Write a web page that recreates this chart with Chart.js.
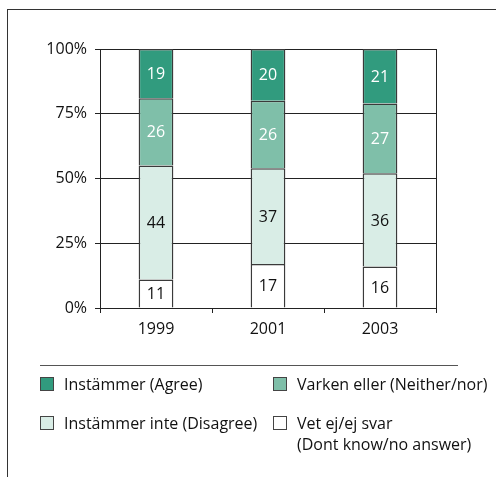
<!DOCTYPE html>
<html>
<head>
<meta charset="utf-8">
<script src="https://cdn.jsdelivr.net/npm/chart.js@4.4.1/dist/chart.umd.min.js"></script>
<style>
  html, body { margin: 0; padding: 0; background: #fff; }
  #wrap { position: relative; width: 496px; height: 477px; overflow: hidden; font-family: "Open Sans", sans-serif; }
  #frame { position: absolute; left: 7px; top: 9px; width: 500px; height: 480px;
           border-left: 1px solid #333; border-top: 1px solid #333; }
  canvas { position: absolute; left: 0; top: 0; }
  #rule { position: absolute; left: 40px; top: 365px; width: 418px; height: 0; border-top: 1px solid #555; }
  .item { position: absolute; font-size: 16px; color: #111; line-height: 21px; white-space: nowrap; }
  .item i { position: absolute; left: -24px; top: 3px; width: 12px; height: 12px; border: 1px solid #444; }
</style>
</head>
<body>
<div id="wrap">
  <div id="frame"></div>
  <canvas id="c" width="496" height="477"></canvas>
  <div id="rule"></div>
  <div id="legend"></div>
</div>
<script>
// survey years and answer shares (per cent), stacked bottom to top
const years = ["1999", "2001", "2003"];
const dontKnow = [11, 17, 16];
const disagree = [44, 37, 36];
const neither = [26, 26, 27];
const agree = [19, 20, 21];
const yTicks = [0, 25, 50, 75, 100];

const seriesNames = ["Vet ej/ej svar\n(Dont know/no answer)", "Instämmer inte (Disagree)",
                     "Varken eller (Neither/nor)", "Instämmer (Agree)"];
const fills = ["#ffffff", "#d9ede6", "#7fbfa9", "#319b7e"];
const labelInk = ["#111", "#111", "#fff", "#fff"];

const FONT = "'Open Sans', sans-serif";

// value labels inside each stacked segment
const segmentLabels = {
  id: "segmentLabels",
  afterDatasetsDraw(chart) {
    const ctx = chart.ctx;
    ctx.save();
    ctx.font = "16px " + FONT;
    ctx.textAlign = "center";
    ctx.textBaseline = "middle";
    chart.data.datasets.forEach((ds, i) => {
      const meta = chart.getDatasetMeta(i);
      meta.data.forEach((bar, j) => {
        ctx.fillStyle = labelInk[i];
        ctx.fillText(ds.data[j], bar.x, (bar.y + bar.base) / 2 + 1);
      });
    });
    ctx.restore();
  }
};

// closing line on the right side of the plot
const rightEdge = {
  id: "rightEdge",
  beforeDatasetsDraw(chart) {
    const a = chart.chartArea, ctx = chart.ctx;
    ctx.save();
    ctx.strokeStyle = "#222";
    ctx.lineWidth = 1;
    ctx.beginPath();
    ctx.moveTo(Math.round(a.right) + 0.5, a.top);
    ctx.lineTo(Math.round(a.right) + 0.5, a.bottom);
    ctx.stroke();
    ctx.restore();
  }
};

const series = [dontKnow, disagree, neither, agree];

new Chart(document.getElementById("c"), {
  type: "bar",
  data: {
    labels: years,
    datasets: series.map((d, i) => ({
      label: seriesNames[i],
      data: d,
      backgroundColor: fills[i],
      borderColor: "#3a3a3a",
      borderWidth: 1.5,
      borderSkipped: "start",
      inflateAmount: 0,
      barPercentage: 1,
      categoryPercentage: 0.31
    }))
  },
  options: {
    responsive: false,
    animation: false,
    layout: { padding: { top: 49, right: 60, left: 0, bottom: 0 } },
    plugins: { legend: { display: false }, tooltip: { enabled: false } },
    scales: {
      x: {
        stacked: true,
        afterFit: s => { s.height = 169; },
        grid: { drawOnChartArea: false, color: "#222", tickLength: 5 },
        border: { color: "#222" },
        ticks: { color: "#111", font: { family: FONT, size: 16 }, padding: 7 }
      },
      y: {
        stacked: true,
        min: 0,
        max: 100,
        afterFit: s => { s.width = 100; },
        afterBuildTicks: s => { s.ticks = yTicks.map(v => ({ value: v })); },
        grid: { color: "#222", tickLength: 5 },
        border: { color: "#222" },
        ticks: { color: "#111", font: { family: FONT, size: 16 }, padding: 8, callback: v => v + "%" }
      }
    }
  },
  plugins: [rightEdge, segmentLabels]
});

// two-column key below the chart
const legendSlots = [
  { s: 3, x: 64, y: 374 },
  { s: 2, x: 297, y: 374 },
  { s: 1, x: 64, y: 413 },
  { s: 0, x: 297, y: 413 }
];
const legend = document.getElementById("legend");
legendSlots.forEach(p => {
  const el = document.createElement("div");
  el.className = "item";
  el.style.left = p.x + "px";
  el.style.top = p.y + "px";
  const box = document.createElement("i");
  box.style.background = fills[p.s];
  el.appendChild(box);
  seriesNames[p.s].split("\n").forEach((t, k) => {
    if (k) el.appendChild(document.createElement("br"));
    el.appendChild(document.createTextNode(t));
  });
  legend.appendChild(el);
});
</script>
</body>
</html>
